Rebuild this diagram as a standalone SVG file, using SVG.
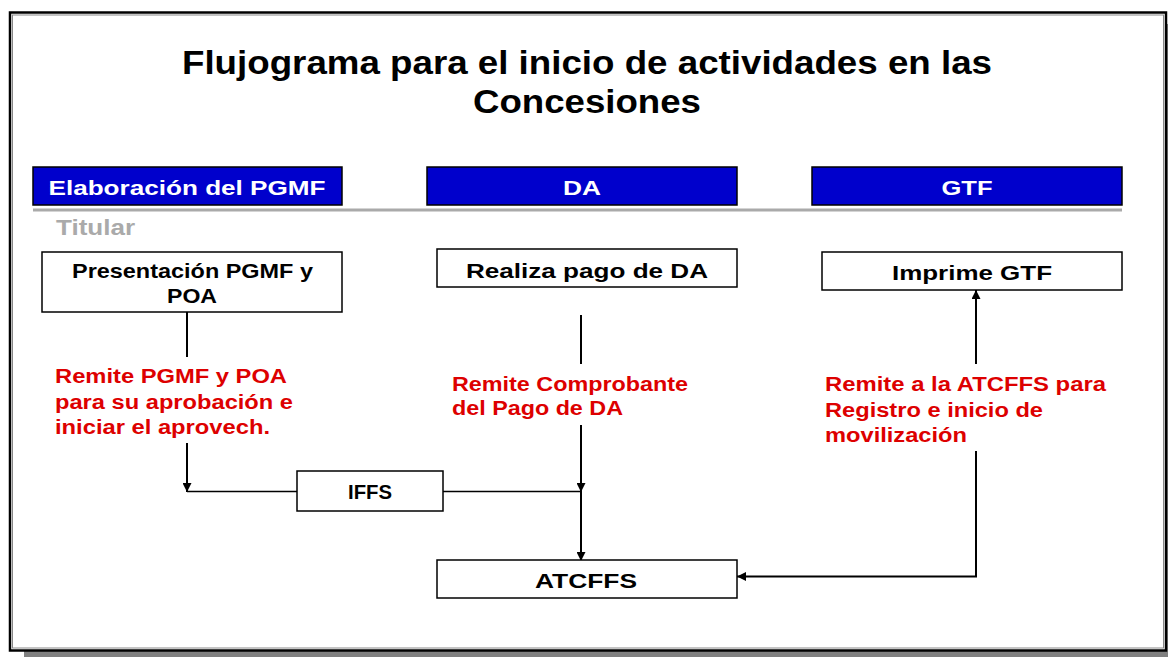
<svg xmlns="http://www.w3.org/2000/svg" width="1168" height="657" viewBox="0 0 1168 657">
<style>
text{font-family:"Liberation Sans",Arial,sans-serif;font-weight:bold}
.hdr{fill:#0000CC;stroke:#000;stroke-width:1.5}
.hdrt{fill:#fff;font-size:21px;text-anchor:middle}
.box{fill:#fff;stroke:#000;stroke-width:1.5}
.bt{fill:#000;font-size:21px;text-anchor:middle}
.red{fill:#DD0000;font-size:20px}
.ln{stroke:#000;stroke-width:2;fill:none}
.ln1{stroke:#000;stroke-width:1.5;fill:none}
</style>
<defs>
<marker id="ahb" viewBox="0 0 10 10" refX="10" refY="5" markerWidth="9" markerHeight="9" orient="auto" markerUnits="userSpaceOnUse">
<path d="M0,0 L10,5 L0,10 z" fill="#000"/>
</marker>
</defs>
<rect x="0" y="0" width="1168" height="657" fill="#fff"/>
<g id="frame">
<rect x="24" y="651" width="1144" height="6" fill="#808080"/>
<rect x="1166" y="24" width="2" height="633" fill="#808080"/>
<rect x="10" y="12.5" width="1156" height="638" fill="#fff" stroke="#000" stroke-width="2.5"/>
<rect x="12.5" y="15" width="1151" height="633" fill="none" stroke="#888" stroke-width="1"/>
</g>
<g id="title">
<text x="587" y="74" font-size="33" text-anchor="middle" textLength="810" lengthAdjust="spacingAndGlyphs">Flujograma para el inicio de actividades en las</text>
<text x="587" y="113" font-size="33" text-anchor="middle" textLength="228" lengthAdjust="spacingAndGlyphs">Concesiones</text>
</g>
<g id="lane-pgmf">
<rect class="hdr" x="33" y="167" width="309" height="38"/>
<text class="hdrt" x="187" y="195" textLength="277" lengthAdjust="spacingAndGlyphs">Elaboración del PGMF</text>
</g>
<g id="lane-da">
<rect class="hdr" x="427" y="167" width="310" height="38"/>
<text class="hdrt" x="582" y="195" textLength="38" lengthAdjust="spacingAndGlyphs">DA</text>
</g>
<g id="lane-gtf">
<rect class="hdr" x="812" y="167" width="310" height="38"/>
<text class="hdrt" x="967" y="195" textLength="51" lengthAdjust="spacingAndGlyphs">GTF</text>
</g>
<rect x="33" y="208.5" width="1089" height="3" fill="#aaa"/>
<text x="56" y="235" font-size="22" fill="#aaa" textLength="79" lengthAdjust="spacingAndGlyphs">Titular</text>
<g id="connectors">
<line class="ln" x1="187" y1="312" x2="187" y2="357"/>
<line class="ln" x1="187" y1="443" x2="187" y2="492" marker-end="url(#ahb)"/>
<line class="ln1" x1="187" y1="491.5" x2="297" y2="491.5"/>
<line class="ln1" x1="443" y1="491.5" x2="581" y2="491.5"/>
<line class="ln" x1="581" y1="315" x2="581" y2="364"/>
<line class="ln" x1="581" y1="425" x2="581" y2="492" marker-end="url(#ahb)"/>
<line class="ln" x1="581" y1="491" x2="581" y2="561" marker-end="url(#ahb)"/>
<line class="ln" x1="976" y1="364" x2="976" y2="290" marker-end="url(#ahb)"/>
<polyline class="ln" points="976,451 976,576.5 737,576.5" marker-end="url(#ahb)"/>
</g>
<g id="n-presentacion">
<rect class="box" x="42" y="252" width="300" height="60"/>
<text class="bt" x="192.5" y="278" font-size="20" textLength="241" lengthAdjust="spacingAndGlyphs">Presentación PGMF y</text>
<text class="bt" x="192" y="303" font-size="20" textLength="50" lengthAdjust="spacingAndGlyphs">POA</text>
</g>
<g id="n-realiza">
<rect class="box" x="437" y="249" width="300" height="38"/>
<text class="bt" x="587" y="278" font-size="22" textLength="242" lengthAdjust="spacingAndGlyphs">Realiza pago de DA</text>
</g>
<g id="n-imprime">
<rect class="box" x="822" y="252" width="300" height="38"/>
<text class="bt" x="972" y="280" font-size="22" textLength="160" lengthAdjust="spacingAndGlyphs">Imprime GTF</text>
</g>
<g id="n-iffs">
<rect class="box" x="297" y="471" width="146" height="40"/>
<text class="bt" x="370" y="499" font-size="18" textLength="44" lengthAdjust="spacingAndGlyphs">IFFS</text>
</g>
<g id="n-atcffs">
<rect class="box" x="437" y="560" width="300" height="38"/>
<text class="bt" x="586" y="588" font-size="23" textLength="102" lengthAdjust="spacingAndGlyphs">ATCFFS</text>
</g>
<g id="labels">
<text class="red" x="55" y="383" textLength="232" lengthAdjust="spacingAndGlyphs">Remite PGMF y POA</text>
<text class="red" x="55" y="409" textLength="238" lengthAdjust="spacingAndGlyphs">para su aprobación e</text>
<text class="red" x="55" y="434" textLength="215" lengthAdjust="spacingAndGlyphs">iniciar el aprovech.</text>
<text class="red" x="452" y="391" textLength="236" lengthAdjust="spacingAndGlyphs">Remite Comprobante</text>
<text class="red" x="452" y="415" textLength="171" lengthAdjust="spacingAndGlyphs">del Pago de DA</text>
<text class="red" x="825" y="391" textLength="281" lengthAdjust="spacingAndGlyphs">Remite a la ATCFFS para</text>
<text class="red" x="825" y="417" textLength="218" lengthAdjust="spacingAndGlyphs">Registro e inicio de</text>
<text class="red" x="825" y="442" textLength="142" lengthAdjust="spacingAndGlyphs">movilización</text>
</g>
</svg>
